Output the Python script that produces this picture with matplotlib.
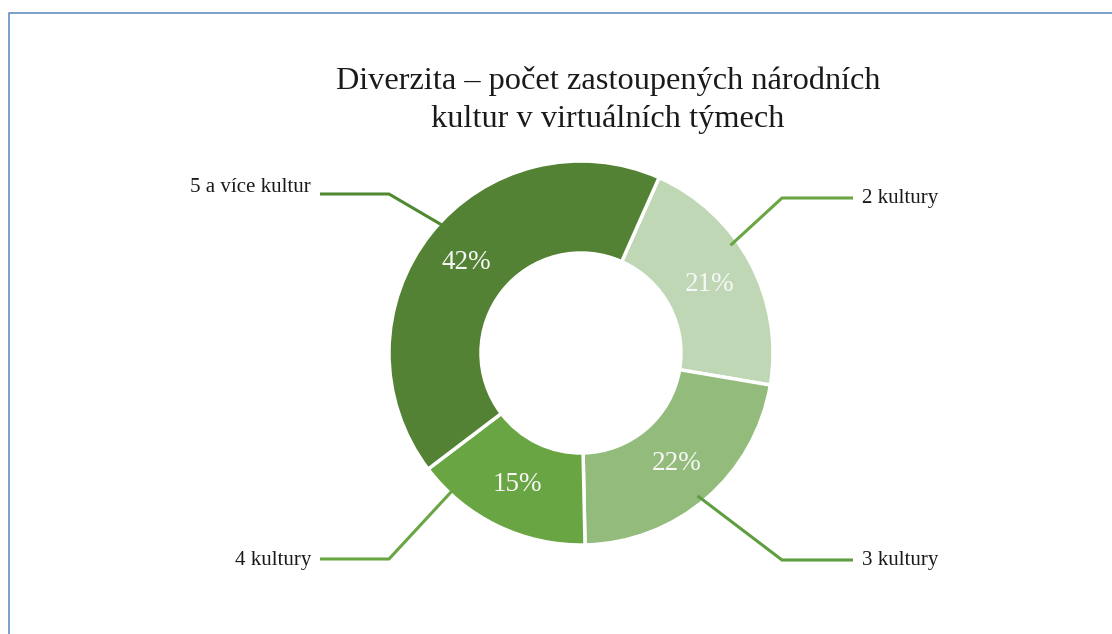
import numpy as np
import matplotlib
matplotlib.use('Agg')
import matplotlib.pyplot as plt

# data
kategorie = ['2 kultury', '3 kultury', '4 kultury', '5 a více kultur']
podily = [21, 22, 15, 42]
barvy = ['#bfd7b4', '#93bc7c', '#6aa543', '#548235']
barvy_car = ['#6aa543', '#5f9e3e', '#6aa543', '#4f8a32']
nadpis = 'Diverzita – počet zastoupených národních\nkultur v virtuálních týmech'

W, H = 1112, 634
plt.rcParams['font.family'] = ['Liberation Serif', 'DejaVu Serif']

fig = plt.figure(figsize=(W / 100, H / 100), dpi=100)
ax = fig.add_axes([0, 0, 1, 1])

cx, cy = 581, H - 353
R, r_in = 192, 100

wedges, texts, autotexts = ax.pie(
    podily, colors=barvy, startangle=66, counterclock=False,
    radius=R, center=(cx, cy),
    autopct='%1.0f%%', pctdistance=(R + r_in) / 2 / R,
    wedgeprops=dict(width=R - r_in, edgecolor='white', linewidth=2.5),
    textprops=dict(color='#f7f7f7', fontsize=19.5))

# popisky s vodici carou
kotva_frac = [0.40, 0.52, 0.82, 0.53]   # poloha kotvy ve vysece
popisek_y = [198, 560, 559, 194]       # y vodorovne casti (px od shora)
strana = [1, 1, -1, -1]
for w, nazev, f, ly, s, c in zip(wedges, kategorie, kotva_frac, popisek_y, strana, barvy_car):
    a = np.deg2rad(w.theta2 - f * (w.theta2 - w.theta1))
    ax0 = cx + 0.96 * R * np.cos(a)
    ay0 = cy + 0.96 * R * np.sin(a)
    ex = 782 if s > 0 else 389
    kx = 853 if s > 0 else 320
    y = H - ly
    ax.plot([ax0, ex, kx], [ay0, y, y], color=c, lw=2.2, solid_capstyle='butt')
    ty = y + (7 if nazev.startswith('5') else -1)
    ax.text(862 if s > 0 else 311, ty, nazev, ha='left' if s > 0 else 'right',
            va='center', fontsize=15, color='#1a1a1a')

ax.text(608, H - 100, nadpis, ha='center', va='center', fontsize=23.3,
        linespacing=1.36, color='#1a1a1a')

# ramecek
ax.plot([9, 9, W], [0, H - 13, H - 13], color='#7196c4', lw=1.3)

ax.set_xlim(0, W)
ax.set_ylim(0, H)
ax.set_aspect('auto')
ax.axis('off')

fig.savefig('out.png', dpi=100)
